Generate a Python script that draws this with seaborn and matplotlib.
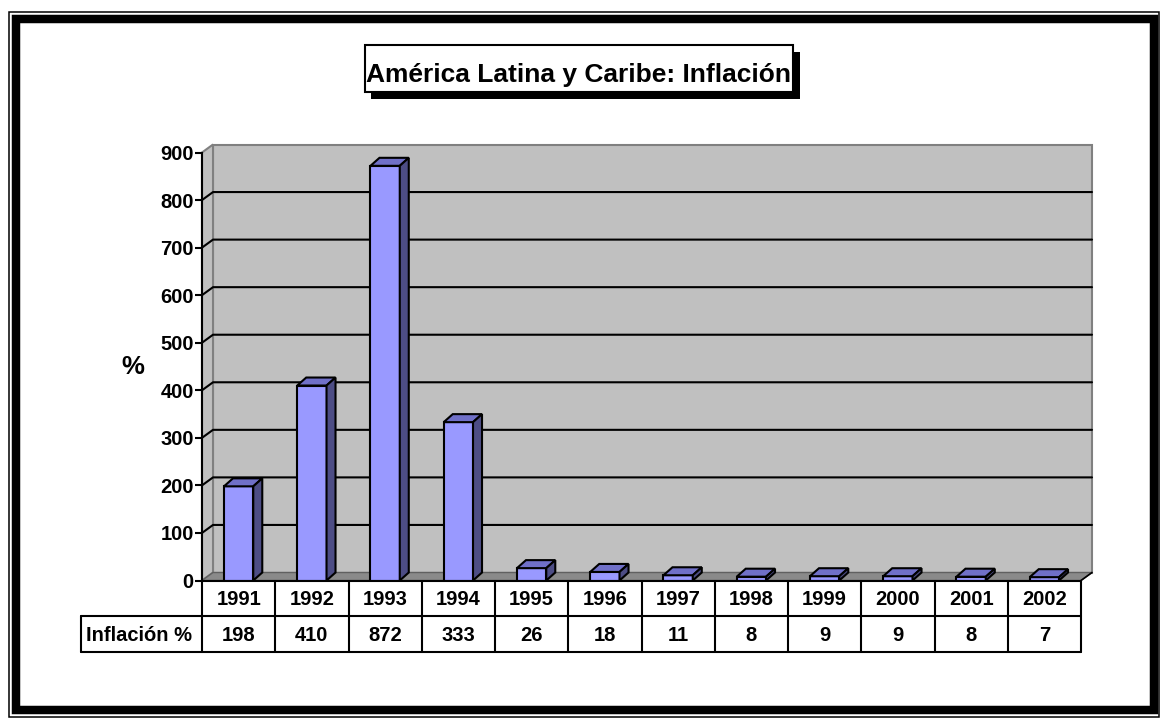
import numpy as np
import pandas as pd
import matplotlib
matplotlib.use("Agg")
import matplotlib.pyplot as plt
import seaborn as sns
from matplotlib.patches import Polygon, Rectangle
from matplotlib.lines import Line2D
from matplotlib.transforms import IdentityTransform

# ---------------- data ----------------
years = ["1991", "1992", "1993", "1994", "1995", "1996",
         "1997", "1998", "1999", "2000", "2001", "2002"]
inflation = [198, 410, 872, 333, 26, 18, 11, 8, 9, 9, 8, 7]
y_ticks = [0, 100, 200, 300, 400, 500, 600, 700, 800, 900]
title_text = "América Latina y Caribe: Inflación"
row_label = "Inflación %"
y_label = "%"

# ---------------- setup ----------------
W, H, DPI = 1161, 722, 100
sns.set_theme(style="white")
plt.rcParams["font.family"] = ["Liberation Sans", "DejaVu Sans"]
plt.rcParams["font.weight"] = "bold"

fig = plt.figure(figsize=(W / DPI, H / DPI), dpi=DPI)
fig.patch.set_facecolor("white")


def fx(px):
    return px / W


def fy(py):
    return 1 - py / H


ax_left, ax_right, ax_top, ax_bot = 202, 1081, 152.5, 580.5
ax = fig.add_axes([fx(ax_left), fy(ax_bot), (ax_right - ax_left) / W, (ax_bot - ax_top) / H])
ax.set_facecolor("none")

df = pd.DataFrame({"year": years, "value": inflation})
sns.barplot(data=df, x="year", y="value", order=years, color="#9999FF",
            saturation=1, edgecolor="black", linewidth=1.5, width=0.4,
            errorbar=None, ax=ax, zorder=3)
bars = [p for p in ax.patches if isinstance(p, Rectangle)]

ax.set_xlim(-0.5, len(years) - 0.5)
ax.set_ylim(0, 900)
ax.set_yticks(y_ticks)
ax.set_xticks([])
ax.set_xlabel("")
ax.set_ylabel("")
for s in ["top", "right", "bottom"]:
    ax.spines[s].set_visible(False)
ax.spines["left"].set_color("black")
ax.spines["left"].set_linewidth(1.5)
ax.spines["left"].set_zorder(4)
ax.tick_params(axis="y", direction="out", length=5, width=1.5, pad=1,
               labelsize=14.5, colors="black", left=True)
for lab in ax.get_yticklabels():
    lab.set_fontweight("bold")

ID = IdentityTransform()


def D(x, y):
    return np.array(ax.transData.transform((x, y)))


WALL = np.array([11.0, 8.0])   # depth of the plot walls (px)
BAR = np.array([9.0, 8.0])     # depth of the bars (px)

x0, x1 = -0.5, len(years) - 0.5
ymax = y_ticks[-1]
fl, fr, tl, tr = D(x0, 0), D(x1, 0), D(x0, ymax), D(x1, ymax)

# back wall
ax.add_artist(Polygon([fl + WALL, fr + WALL, tr + WALL, tl + WALL], closed=True,
                      facecolor="#C0C0C0", edgecolor="#808080", lw=1.5,
                      transform=ID, clip_on=False, zorder=0.1))
# left wall
ax.add_artist(Polygon([fl, fl + WALL, tl + WALL, tl], closed=True,
                      facecolor="#C0C0C0", edgecolor="#808080", lw=1.5,
                      transform=ID, clip_on=False, zorder=0.2))
# floor
ax.add_artist(Polygon([fl, fr, fr + WALL, fl + WALL], closed=True,
                      facecolor="#8A8A8A", edgecolor="#606060", lw=1.0,
                      transform=ID, clip_on=False, zorder=0.3))
ax.add_artist(Line2D([fr[0], fr[0] + WALL[0]], [fr[1], fr[1] + WALL[1]],
                     color="black", lw=1.2, transform=ID, clip_on=False, zorder=0.35))

# gridlines
for v in y_ticks[1:-1]:
    a = D(x0, v)
    b = a + WALL
    c = D(x1, v) + WALL
    ax.add_artist(Line2D([a[0], b[0], c[0]], [a[1], b[1], c[1]], color="black",
                         lw=1.5, transform=ID, clip_on=False, zorder=0.5))

# 3D faces for bars
for p in bars:
    bx, bw, bh = p.get_x(), p.get_width(), p.get_height()
    br = D(bx + bw, 0)
    tlb = D(bx, bh)
    trb = D(bx + bw, bh)
    ax.add_artist(Polygon([tlb, trb, trb + BAR, tlb + BAR], closed=True,
                          facecolor="#7070C8", edgecolor="black", lw=1.5,
                          transform=ID, clip_on=False, zorder=3))
    ax.add_artist(Polygon([br, trb, trb + BAR, br + BAR], closed=True,
                          facecolor="#4D4D85", edgecolor="black", lw=1.5,
                          transform=ID, clip_on=False, zorder=3))

# ---------------- data table ----------------
row_h = 35.5
label_left = 81
ytop = fl[1]
y1 = ytop - row_h
y2 = ytop - 2 * row_h
tab_kw = dict(color="black", lw=1.5, transform=ID, clip_on=False, zorder=5)
ax.add_artist(Line2D([fl[0], fr[0]], [ytop, ytop], **tab_kw))
ax.add_artist(Line2D([label_left, fr[0]], [y1, y1], **tab_kw))
ax.add_artist(Line2D([label_left, fr[0]], [y2, y2], **tab_kw))
ax.add_artist(Line2D([label_left, label_left], [y1, y2], **tab_kw))
for k in range(len(years) + 1):
    xb = D(x0 + k, 0)[0]
    ax.add_artist(Line2D([xb, xb], [ytop, y2], **tab_kw))

for i, (yr, val) in enumerate(zip(years, inflation)):
    cx = D(i, 0)[0]
    ax.text(cx, (ytop + y1) / 2 - 7, yr, ha="center", va="baseline", fontsize=14.5,
            fontweight="bold", color="black", transform=ID, clip_on=False)
    ax.text(cx, (y1 + y2) / 2 - 7, str(val), ha="center", va="baseline", fontsize=14.5,
            fontweight="bold", color="black", transform=ID, clip_on=False)
ax.text(label_left + 5, (y1 + y2) / 2 - 7, row_label, ha="left", va="baseline",
        fontsize=14.5, fontweight="bold", color="black", transform=ID, clip_on=False)

# y label
fig.text(fx(133), fy(367), y_label, ha="center", va="center", fontsize=18.5,
         fontweight="bold", color="black")

# ---------------- title box ----------------
fig.add_artist(Rectangle((fx(371), fy(99)), (800 - 371) / W, (99 - 52) / H,
                         facecolor="black", edgecolor="none", transform=fig.transFigure))
fig.add_artist(Rectangle((fx(365), fy(92)), (793 - 365) / W, (92 - 45) / H,
                         facecolor="white", edgecolor="black", lw=1.5,
                         transform=fig.transFigure))
fig.text(fx(579), fy(82), title_text, ha="center", va="baseline", fontsize=19,
         fontweight="bold", color="black")

# ---------------- frame ----------------
fig.add_artist(Rectangle((fx(16), fy(710)), (1153.5 - 16) / W, (710 - 18.5) / H,
                         facecolor="none", edgecolor="black", lw=6.1,
                         transform=fig.transFigure))
fig.add_artist(Rectangle((fx(8.5), fy(717)), (1159 - 8.5) / W, (717 - 12) / H,
                         facecolor="none", edgecolor="black", lw=1.1,
                         transform=fig.transFigure))

fig.savefig("out.png", dpi=DPI)
